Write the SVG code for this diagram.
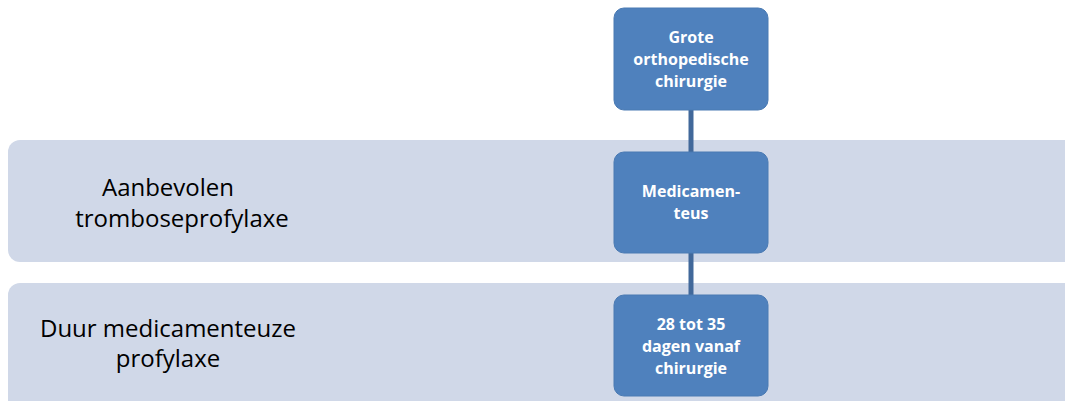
<svg xmlns="http://www.w3.org/2000/svg" width="1065" height="401" viewBox="0 0 1065 401">
<style>
.band{fill:#d0d8e8;}
.node{fill:#4f81bd;stroke:#4a7ab3;stroke-width:1;}
.nt{font-family:"Open Sans","Liberation Sans",sans-serif;font-weight:bold;font-size:16px;fill:#ffffff;text-anchor:middle;}
.bt{font-family:"Open Sans","Liberation Sans",sans-serif;font-size:24px;fill:#000000;text-anchor:middle;}
.conn{stroke:#41689a;stroke-width:5;fill:none;}
</style>
<rect width="1065" height="401" fill="#ffffff"/>
<g id="band1">
<rect class="band" x="8" y="140" width="1080" height="122" rx="12"/>
<text class="bt" x="168" y="196">Aanbevolen</text>
<text class="bt" x="182" y="227">tromboseprofylaxe</text>
</g>
<g id="band2">
<rect class="band" x="8" y="283" width="1080" height="140" rx="12"/>
<text class="bt" x="168" y="337">Duur medicamenteuze</text>
<text class="bt" x="168" y="367">profylaxe</text>
</g>
<g id="connectors">
<line class="conn" x1="691" y1="110" x2="691" y2="152"/>
<line class="conn" x1="691" y1="253" x2="691" y2="295"/>
</g>
<g id="n1">
<rect class="node" x="614" y="8" width="154" height="102" rx="10"/>
<text class="nt" x="691" y="43">Grote</text>
<text class="nt" x="691" y="65">orthopedische</text>
<text class="nt" x="691" y="87">chirurgie</text>
</g>
<g id="n2">
<rect class="node" x="614" y="152" width="154" height="101" rx="10"/>
<text class="nt" x="691" y="197">Medicamen-</text>
<text class="nt" x="691" y="219">teus</text>
</g>
<g id="n3">
<rect class="node" x="614" y="295" width="154" height="101" rx="10"/>
<text class="nt" x="691" y="330">28 tot 35</text>
<text class="nt" x="691" y="352">dagen vanaf</text>
<text class="nt" x="691" y="374">chirurgie</text>
</g>
</svg>
